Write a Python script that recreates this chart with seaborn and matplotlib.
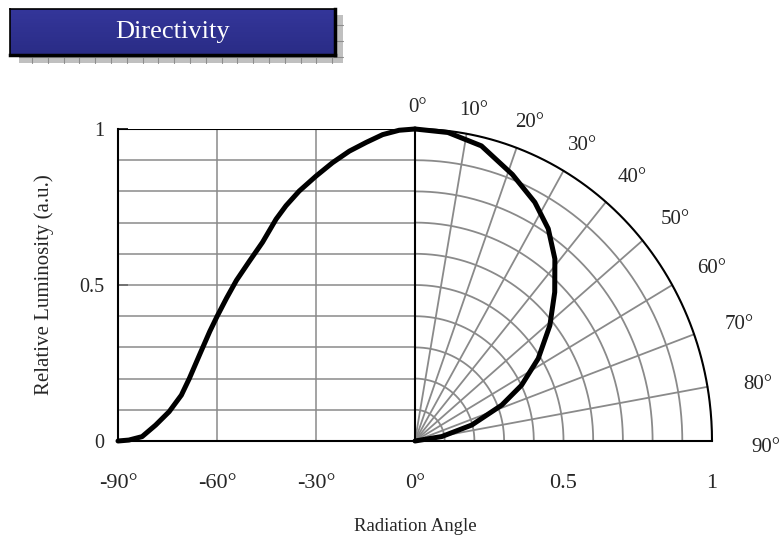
import numpy as np
import pandas as pd
import matplotlib
matplotlib.use("Agg")
import matplotlib.pyplot as plt
import seaborn as sns
from matplotlib.patches import Rectangle
from matplotlib.colors import LinearSegmentedColormap

# ---------------- data ----------------
left_angles = [-90, -86.7, -82.7, -78.6, -74.5, -70.8, -68.4, -65.3, -62.2, -60, -57.1,
               -54.1, -50.2, -46.2, -42.1, -39.1, -35.1, -30, -25, -19.9, -14.8, -9.8, -4.8, 0]
left_lum = [0.0, 0.003, 0.014, 0.051, 0.094, 0.147, 0.20, 0.276, 0.351, 0.399, 0.458,
            0.515, 0.576, 0.637, 0.711, 0.754, 0.801, 0.849, 0.892, 0.929, 0.957, 0.982, 0.996, 1.0]

polar_angles = [0, 6.4, 13.3, 21, 27.8, 33.4, 38.9, 44.6, 50.8, 57.5, 63.5, 68.5, 75, 81, 90]
polar_lum = [1.0, 0.995, 0.972, 0.915, 0.865, 0.815, 0.750, 0.670, 0.586, 0.492, 0.401,
             0.314, 0.198, 0.091, 0.0]

x_tick_pos = [-1, -2 / 3, -1 / 3, 0, 0.5, 1]
x_tick_labels = ["-90°", "-60°", "-30°", "0°", "0.5", "1"]
y_tick_pos = [0, 0.5, 1]
y_tick_labels = ["0", "0.5", "1"]
polar_label_angles = [0, 10, 20, 30, 40, 50, 60, 70, 80, 90]
grid_levels = [0.1, 0.2, 0.3, 0.4, 0.5, 0.6, 0.7, 0.8, 0.9]
spoke_angles = [10, 20, 30, 40, 50, 60, 70, 80]

title_text = "Directivity"
xlabel_text = "Radiation Angle"
ylabel_text = "Relative Luminosity (a.u.)"

# ---------------- style ----------------
sns.set_style("white")
plt.rcParams["font.family"] = ["Liberation Serif", "DejaVu Serif"]

W, H = 784, 539
fig = plt.figure(figsize=(W / 100, H / 100), dpi=100)


def fx(px):
    return px / W


def fy(py):
    return 1 - py / H


ax = fig.add_axes([fx(118), fy(441), (712 - 118) / W, (441 - 129) / H])
ax.set_xlim(-1, 1)
ax.set_ylim(0, 1)

GRAY = "#8a8a8a"

# left cartesian grid
ax.hlines(grid_levels, -1, 0, color=GRAY, lw=1.1, zorder=1)
ax.vlines([-2 / 3, -1 / 3], 0, 1, color=GRAY, lw=1.1, zorder=1)

# polar grid (quarter)
t = np.linspace(0, np.pi / 2, 200)
for r in grid_levels:
    ax.plot(r * np.sin(t), r * np.cos(t), color=GRAY, lw=1.3, zorder=1)
for a in spoke_angles:
    ar = np.deg2rad(a)
    ax.plot([0, np.sin(ar)], [0, np.cos(ar)], color=GRAY, lw=1.3, zorder=1)
ax.plot(np.sin(t), np.cos(t), color="black", lw=1.5, zorder=3, clip_on=False)

# frame lines
ax.hlines(1, -1, 0, color="black", lw=1.5, zorder=3)
ax.vlines(0, 0, 1, color="black", lw=1.5, zorder=3)
for s in ["top", "right"]:
    ax.spines[s].set_visible(False)
for s in ["left", "bottom"]:
    ax.spines[s].set_color("black")
    ax.spines[s].set_linewidth(1.5)

# curves
df_left = pd.DataFrame({"x": np.array(left_angles) / 90.0, "y": left_lum})
th = np.deg2rad(polar_angles)
df_right = pd.DataFrame({"x": np.array(polar_lum) * np.sin(th),
                         "y": np.array(polar_lum) * np.cos(th)})
sns.lineplot(data=df_left, x="x", y="y", ax=ax, color="black", lw=3.6,
             sort=False, estimator=None, zorder=5)
sns.lineplot(data=df_right, x="x", y="y", ax=ax, color="black", lw=3.6,
             sort=False, estimator=None, zorder=5)
for ln in ax.lines:
    ln.set_clip_on(False)
    ln.set_solid_joinstyle("round")
    ln.set_solid_capstyle("round")

# ticks
ax.set_xticks(x_tick_pos)
ax.set_xticklabels(x_tick_labels)
ax.set_xticks([-2 / 3, -1 / 3], minor=True)
ax.tick_params(axis="x", which="major", length=0, pad=24, labelsize=16)
ax.tick_params(axis="x", which="minor", direction="in", length=7, width=1.2,
               color="black", bottom=True)
ax.set_yticks(y_tick_pos)
ax.set_yticklabels(y_tick_labels)
ax.tick_params(axis="y", which="major", direction="in", length=7, width=1.2,
               color="black", pad=10, labelsize=14.5, left=True)

ax.set_xlabel(xlabel_text, fontsize=13.5, labelpad=18)
ax.set_ylabel(ylabel_text, fontsize=15, labelpad=18)

# polar angle labels
for a in polar_label_angles:
    R = 1.08 + 0.10 * a / 90.0
    ar = np.deg2rad(a + 0.5)
    ax.text(R * np.sin(ar), R * np.cos(ar) - 0.012, f"{a}°", ha="center", va="center",
            fontsize=15, clip_on=False)

# ---------------- title box ----------------
sx0, sy0, sx1, sy1 = 19, 15, 343, 63
fig.patches.append(Rectangle((fx(sx0), fy(sy1)), (sx1 - sx0) / W, (sy1 - sy0) / H,
                             transform=fig.transFigure, facecolor="#c0c0c0",
                             edgecolor="none", zorder=0))
for gx in np.arange(sx0 + 13, sx1, 15.8):
    fig.lines.append(plt.Line2D([fx(gx), fx(gx)], [fy(sy0), fy(sy1)],
                                transform=fig.transFigure, color="#8c8c8c", lw=0.8, zorder=1))
for gy in np.arange(sy0 + 10, sy1, 15.8):
    fig.lines.append(plt.Line2D([fx(sx0), fx(sx1)], [fy(gy), fy(gy)],
                                transform=fig.transFigure, color="#8c8c8c", lw=0.8, zorder=1))

bx0, by0, bx1, by1 = 10, 9, 335, 55
tax = fig.add_axes([fx(bx0), fy(by1), (bx1 - bx0) / W, (by1 - by0) / H], zorder=10)
grad = np.linspace(0, 1, 64).reshape(-1, 1)
cmap = LinearSegmentedColormap.from_list("b", ["#34369a", "#2a2c86"])
tax.imshow(grad, aspect="auto", cmap=cmap, extent=[0, 1, 0, 1], origin="upper")
tax.set_xlim(0, 1)
tax.set_ylim(0, 1)
tax.set_xticks([])
tax.set_yticks([])
for s in tax.spines.values():
    s.set_color("black")
    s.set_linewidth(1.2)
tax.spines["bottom"].set_linewidth(2.5)
tax.spines["right"].set_linewidth(2.5)
tax.text(0.5, 0.5, title_text, color="white", fontsize=19, ha="center", va="center",
         transform=tax.transAxes)

fig.savefig("out.png", dpi=100)
